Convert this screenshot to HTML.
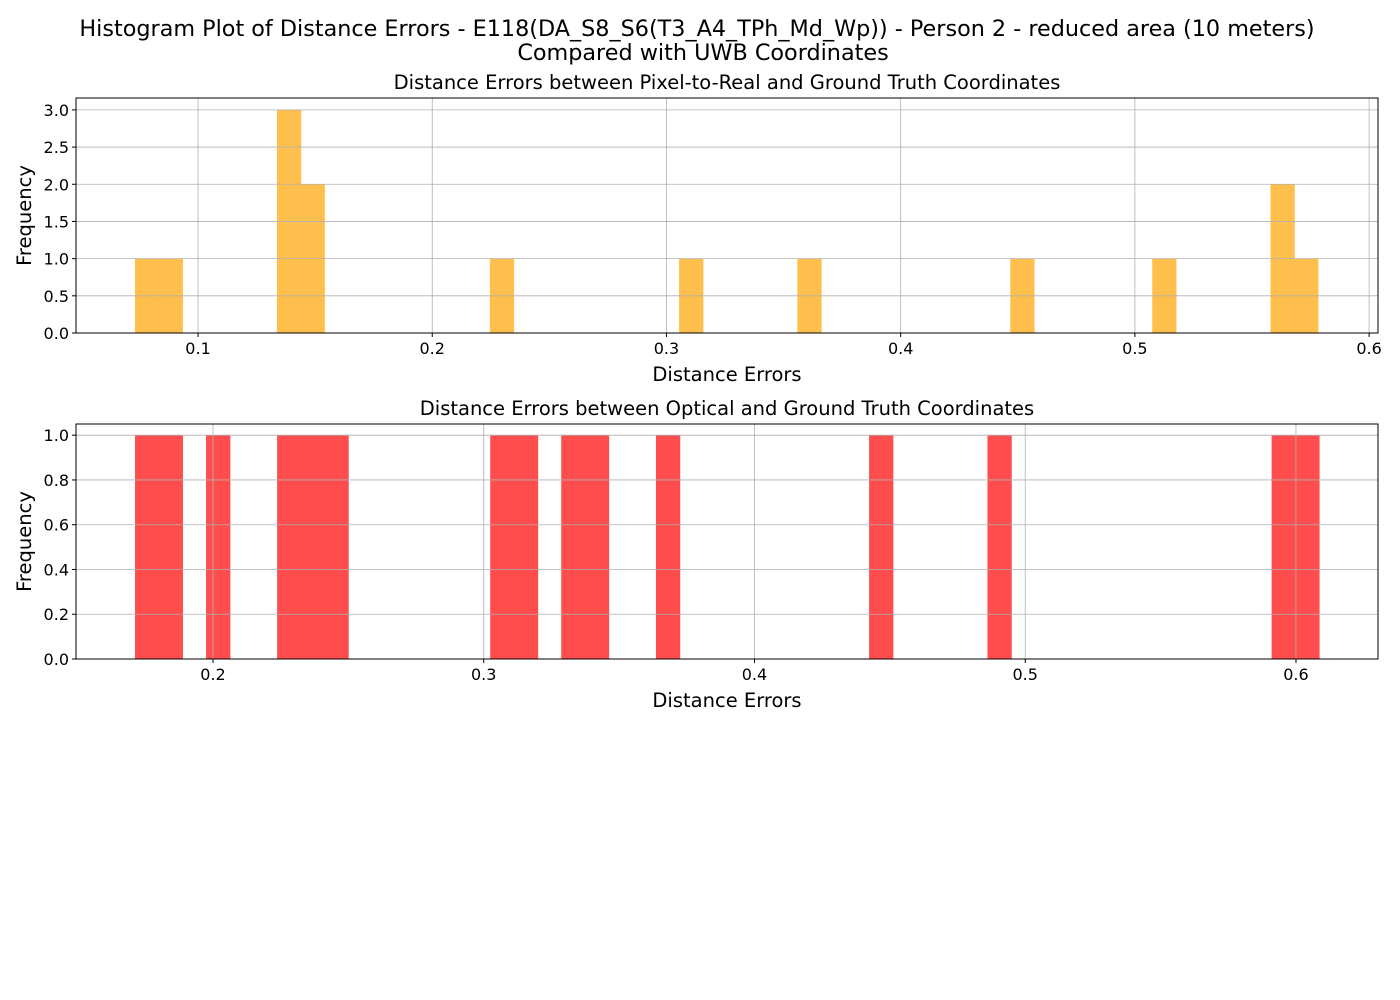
<!DOCTYPE html>
<html><head><meta charset="utf-8"><style>
body{margin:0;background:#fff;}
svg{display:block;font-family:"DejaVu Sans","Liberation Sans",sans-serif;}
</style></head><body>
<svg id="chart" width="1400" height="1000" xmlns="http://www.w3.org/2000/svg">
<rect width="1400" height="1000" fill="#fff"/>
<text x="697" y="36" font-size="22.3" text-anchor="middle">Histogram Plot of Distance Errors - E118(DA_S8_S6(T3_A4_TPh_Md_Wp)) - Person 2 - reduced area (10 meters)</text>
<text x="703" y="60" font-size="22.3" text-anchor="middle">Compared with UWB Coordinates</text>
</svg>
<script>
// Top histogram data
const topBinStart = 0.0731;
const topBinWidth = 0.0101;
const topBins = [0,1,6,7,15,23,28,37,43,48,49];
const topCounts = [1,1,3,2,1,1,1,1,1,2,1];
const topXTicks = [0.1,0.2,0.3,0.4,0.5,0.6];
const topYTicks = [0,0.5,1.0,1.5,2.0,2.5,3.0];
// Bottom histogram data
const botBinStart = 0.1712;
const botBinWidth = 0.008746;
const botBins = [0,1,3,6,7,8,15,16,18,19,22,31,36,48,49];
const botCounts = [1,1,1,1,1,1,1,1,1,1,1,1,1,1,1];
const botXTicks = [0.2,0.3,0.4,0.5,0.6];
const botYTicks = [0,0.2,0.4,0.6,0.8,1.0];

const NS="http://www.w3.org/2000/svg";
const svg=document.getElementById('chart');
function mk(tag,attrs,parent){const e=document.createElementNS(NS,tag);for(const k in attrs)e.setAttribute(k,attrs[k]);(parent||svg).appendChild(e);return e;}

function drawPanel(o){
  const g=mk('g',{});
  
  
  const L=76,R=1378,T=o.top,B=o.bottom;
  const xs=v=>L+(v-o.xmin)/(o.xmax-o.xmin)*(R-L);
  const ys=v=>B-(v-0)/(o.ymax)*(B-T);
  o.bins.forEach((b,i)=>{
    const x0=o.start+b*o.width, x1=x0+o.width;
    const r=mk('rect',{x:xs(x0),y:ys(o.counts[i]),width:xs(x1)-xs(x0)+0.6,height:ys(0)-ys(o.counts[i]),fill:o.color},g);
    
    
  });
  o.xticks.forEach(t=>{mk('line',{x1:xs(t),x2:xs(t),y1:T,y2:B,stroke:'#b0b0b0','stroke-width':0.8},g);});
  o.yticks.forEach(t=>{mk('line',{x1:L,x2:R,y1:ys(t),y2:ys(t),stroke:'#b0b0b0','stroke-width':0.8},g);});
  mk('rect',{x:L,y:T,width:R-L,height:B-T,fill:'none',stroke:'#000','stroke-width':1},g);
  o.xticks.forEach(t=>{
    mk('line',{x1:xs(t),x2:xs(t),y1:B,y2:B+4,stroke:'#000'},g);
    const tx=mk('text',{x:xs(t),y:B+21,'font-size':16,'text-anchor':'middle'},g);tx.textContent=t.toFixed(1);
    
    
  });
  o.yticks.forEach(t=>{
    mk('line',{x1:L-4,x2:L,y1:ys(t),y2:ys(t),stroke:'#000'},g);
    const tx=mk('text',{x:L-7,y:ys(t)+6,'font-size':16,'text-anchor':'end'},g);tx.textContent=t.toFixed(1);
    
    
  });
  const ti=mk('text',{x:(L+R)/2,y:T-9,'font-size':19.5,'text-anchor':'middle'},g);ti.textContent=o.title;
  
  
  const xl=mk('text',{x:(L+R)/2,y:B+48,'font-size':19.5,'text-anchor':'middle'},g);xl.textContent='Distance Errors';
  
  
  const cy=(T+B)/2;
  const yl=mk('text',{x:31,y:cy,'font-size':19.5,'text-anchor':'middle',transform:`rotate(-90 31 ${cy})`},g);yl.textContent='Frequency';
  
  
}
drawPanel({name:'pixel-to-real-histogram',top:98,bottom:333,xmin:0.0479,xmax:0.6038,ymax:3.16,
  start:topBinStart,width:topBinWidth,bins:topBins,counts:topCounts,xticks:topXTicks,yticks:topYTicks,
  color:'#ffbf4d',title:'Distance Errors between Pixel-to-Real and Ground Truth Coordinates'});
drawPanel({name:'optical-histogram',top:424,bottom:659,xmin:0.1494,xmax:0.6303,ymax:1.05,
  start:botBinStart,width:botBinWidth,bins:botBins,counts:botCounts,xticks:botXTicks,yticks:botYTicks,
  color:'#ff4d4d',title:'Distance Errors between Optical and Ground Truth Coordinates'});
</script>
</body></html>
